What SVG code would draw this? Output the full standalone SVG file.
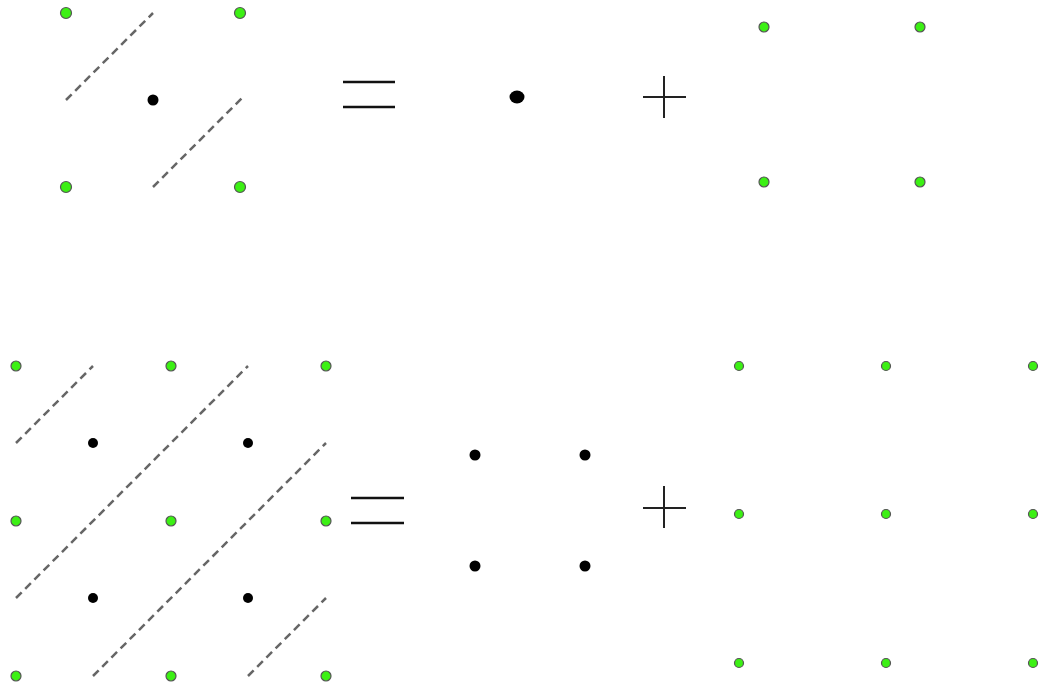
<svg xmlns="http://www.w3.org/2000/svg" width="1048" height="685" viewBox="0 0 1048 685">
<style>
.g{fill:#3cf014;stroke:#555;stroke-width:1.2}
.b{fill:#000}
.d{stroke:#666;stroke-width:2.5;stroke-dasharray:8 5;fill:none}
.s{stroke:#111;stroke-width:2.5;fill:none}
.p{stroke:#222;stroke-width:2;fill:none}
</style>
<rect width="1048" height="685" fill="#fff"/>
<g id="connectors">
<line class="d" x1="66" y1="100" x2="153" y2="13"/>
<line class="d" x1="153" y1="187" x2="242" y2="98"/>
<line class="d" x1="16" y1="443" x2="93" y2="366"/>
<line class="d" x1="16" y1="598" x2="248" y2="366"/>
<line class="d" x1="93" y1="676" x2="326" y2="443"/>
<line class="d" x1="248" y1="676" x2="326" y2="598"/>
</g>
<g id="top-left">
<circle class="g" cx="66" cy="13" r="5.5"/>
<circle class="g" cx="240" cy="13" r="5.5"/>
<circle class="g" cx="66" cy="187" r="5.5"/>
<circle class="g" cx="240" cy="187" r="5.5"/>
<circle class="b" cx="153" cy="100" r="5.5"/>
</g>
<g id="top-equals"><line class="s" x1="343" y1="82" x2="395" y2="82"/><line class="s" x1="343" y1="107" x2="395" y2="107"/></g>
<g id="top-dot"><ellipse class="b" cx="517" cy="97" rx="7.5" ry="6.5"/></g>
<g id="top-plus"><line class="p" x1="643" y1="97" x2="686" y2="97"/><line class="p" x1="664" y1="76" x2="664" y2="118"/></g>
<g id="top-right">
<circle class="g" cx="764" cy="27" r="5"/>
<circle class="g" cx="920" cy="27" r="5"/>
<circle class="g" cx="764" cy="182" r="5"/>
<circle class="g" cx="920" cy="182" r="5"/>
</g>
<g id="bottom-left">
<circle class="g" cx="16" cy="366" r="5"/>
<circle class="g" cx="171" cy="366" r="5"/>
<circle class="g" cx="326" cy="366" r="5"/>
<circle class="g" cx="16" cy="521" r="5"/>
<circle class="g" cx="171" cy="521" r="5"/>
<circle class="g" cx="326" cy="521" r="5"/>
<circle class="g" cx="16" cy="676" r="5"/>
<circle class="g" cx="171" cy="676" r="5"/>
<circle class="g" cx="326" cy="676" r="5"/>
<circle class="b" cx="93" cy="443" r="5"/>
<circle class="b" cx="248" cy="443" r="5"/>
<circle class="b" cx="93" cy="598" r="5"/>
<circle class="b" cx="248" cy="598" r="5"/>
</g>
<g id="bottom-equals"><line class="s" x1="351" y1="498" x2="404" y2="498"/><line class="s" x1="351" y1="523" x2="404" y2="523"/></g>
<g id="bottom-dots">
<circle class="b" cx="475" cy="455" r="5.5"/>
<circle class="b" cx="585" cy="455" r="5.5"/>
<circle class="b" cx="475" cy="566" r="5.5"/>
<circle class="b" cx="585" cy="566" r="5.5"/>
</g>
<g id="bottom-plus"><line class="p" x1="643" y1="508" x2="686" y2="508"/><line class="p" x1="664" y1="486" x2="664" y2="528"/></g>
<g id="bottom-right">
<circle class="g" cx="739" cy="366" r="4.5"/>
<circle class="g" cx="886" cy="366" r="4.5"/>
<circle class="g" cx="1033" cy="366" r="4.5"/>
<circle class="g" cx="739" cy="514" r="4.5"/>
<circle class="g" cx="886" cy="514" r="4.5"/>
<circle class="g" cx="1033" cy="514" r="4.5"/>
<circle class="g" cx="739" cy="663" r="4.5"/>
<circle class="g" cx="886" cy="663" r="4.5"/>
<circle class="g" cx="1033" cy="663" r="4.5"/>
</g>
</svg>
